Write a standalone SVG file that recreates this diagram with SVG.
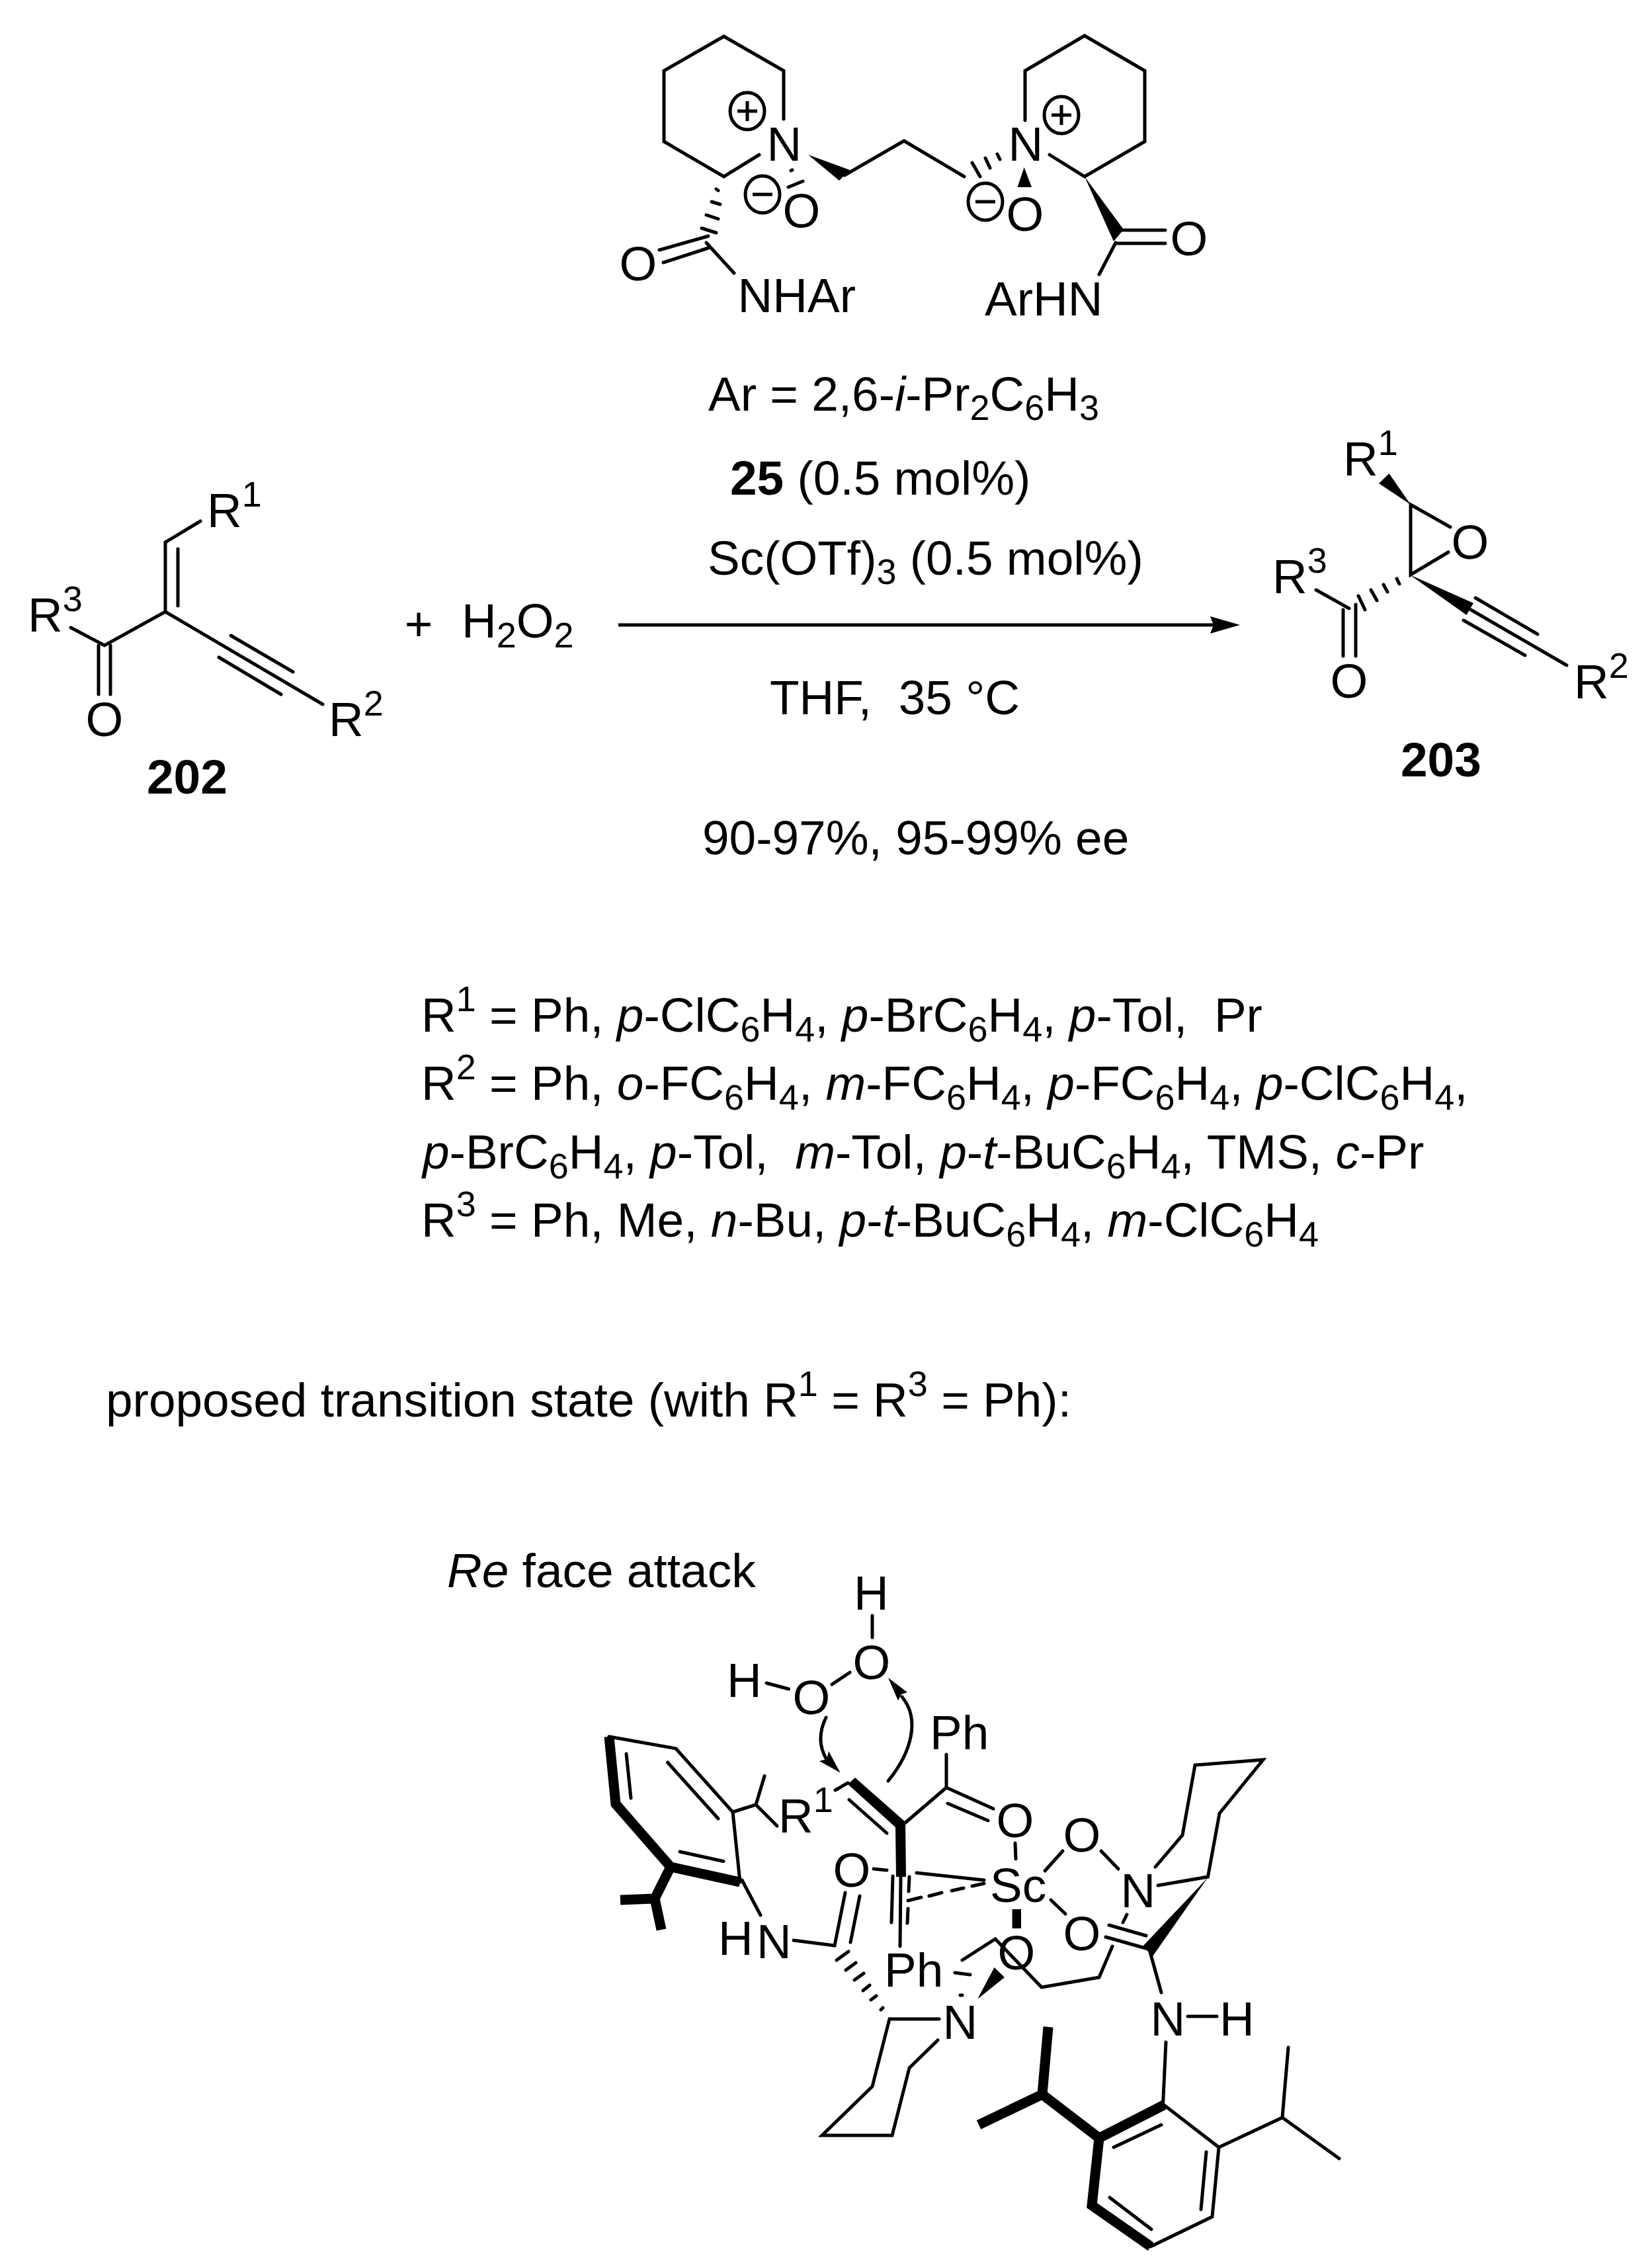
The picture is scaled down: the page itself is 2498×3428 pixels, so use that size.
<svg xmlns="http://www.w3.org/2000/svg" xmlns:xlink="http://www.w3.org/1999/xlink" width="2498" height="3428" viewBox="0 0 2498 3428">
<style>
text{font-family:"Liberation Sans",Arial,sans-serif;font-size:73px;fill:#000}
.b{font-weight:bold}
.i{font-style:italic}
.s{font-size:54px}
.l{fill:none;stroke:#000;stroke-width:5;stroke-linecap:round;stroke-linejoin:miter}
.t{fill:none;stroke:#000;stroke-width:15;stroke-linecap:butt;stroke-linejoin:miter}
.w{fill:#000;stroke:none}
</style>
<defs>
<g id="plus"><ellipse rx="26" ry="28" fill="none" stroke="#000" stroke-width="5"/><path d="M-15 0H15M0 -15V15" fill="none" stroke="#000" stroke-width="5"/></g>
<g id="minus"><ellipse rx="26" ry="28" fill="none" stroke="#000" stroke-width="5"/><path d="M-15 0H15" fill="none" stroke="#000" stroke-width="5"/></g>
<marker id="ah" markerUnits="userSpaceOnUse" markerWidth="50" markerHeight="30" refX="5" refY="13" orient="auto"><path d="M45 13L0 0L5 13L0 26Z" fill="#000"/></marker>
</defs>
<rect width="2498" height="3428" fill="#fff"/>

<g id="catalyst-25">
<path class="l" d="M1185 180V107L1094.500 55L1004 107V214L1094.500 267L1148 234"/>
<path class="l" d="M1550 182V107L1640 54L1731 107V214L1640 267L1587 234"/>
<text x="1159.500" y="243">N</text><text x="1524.500" y="243">N</text>
<use xlink:href="#plus" href="#plus" x="1130" y="168"/><use xlink:href="#plus" href="#plus" x="1605" y="174"/>
<use xlink:href="#minus" href="#minus" x="1153" y="294"/><use xlink:href="#minus" href="#minus" x="1490" y="305"/>
<text x="1183.600" y="344">O</text><text x="1521.600" y="349">O</text>
<path class="w" d="M1222 234L1285 257L1269 273Z"/>
<path class="l" d="M1277 265L1367 213L1458 267"/>
<path class="l" d="M1470 246L1482 267M1490 239L1497 254M1508 233L1512 241"/>
<path class="l" d="M1196 258L1198 257M1192 283L1214 274"/>
<path class="w" d="M1548.600 253L1538.500 283H1560Z"/>
<path class="l" d="M1083 286L1086 288M1076 305L1089 309M1068 325L1086 331M1061 345L1083 352"/>
<path class="l" d="M997 378L1071 357M1003 397L1071 375M1068 367L1110 413"/>
<text x="936.600" y="424">O</text>
<text x="1115.500" y="472">NHAr</text>
<path class="w" d="M1640 267L1684 365L1699 347Z"/>
<path class="l" d="M1693 348H1762M1687 368H1762M1687 367L1662 415"/>
<text x="1769.600" y="386">O</text>
<text x="1489" y="477">ArHN</text>
</g>

<g id="conditions">
<text x="1071" y="621">Ar = 2,6-<tspan class="i">i</tspan>-Pr<tspan class="s" dy="14">2</tspan><tspan dy="-14">C</tspan><tspan class="s" dy="14">6</tspan><tspan dy="-14">H</tspan><tspan class="s" dy="14">3</tspan></text>
<text x="1104" y="748"><tspan class="b">25</tspan> (0.5 mol%)</text>
<text x="1070" y="869">Sc(OTf)<tspan class="s" dy="14">3</tspan><tspan dy="-14"> (0.5 mol%)</tspan></text>
<text x="1164" y="1080">THF,&#160; 35 °C</text>
<text x="1062" y="1292">90-97%, 95-99% ee</text>
</g>

<g id="compound-202">
<path class="l" d="M303 788L250 820V925L158 976L107 949"/>
<path class="l" d="M269 830V916M149 976V1050M167 976V1050"/>
<path class="l" d="M250 925L488 1065M349 961L443 1016M331 994L425 1050"/>
<text x="313" y="797">R<tspan class="s" dy="-31">1</tspan></text>
<text x="42" y="955">R<tspan class="s" dy="-31">3</tspan></text>
<text x="129.600" y="1113">O</text>
<text x="497" y="1113">R<tspan class="s" dy="-31">2</tspan></text>
<text class="b" x="222" y="1200">202</text>
</g>

<g id="reagent-h2o2">
<text x="611.700" y="968">+</text>
<text x="698" y="964">H<tspan class="s" dy="15">2</tspan><tspan dy="-15">O</tspan><tspan class="s" dy="15">2</tspan></text>
</g>

<g id="connectors">
<path d="M935 945H1835" fill="none" stroke="#000" stroke-width="5" marker-end="url(#ah)"/>
<path class="l" d="M1249 2597C1238 2620 1238 2640 1250 2661"/>
<path class="w" d="M1270.600 2680.600L1239 2663L1250 2660L1253 2648Z"/>
<path class="l" d="M1343 2693C1378 2650 1392 2600 1364 2566"/>
<path class="w" d="M1343 2537L1372 2559L1363 2562L1358 2571.500Z"/>
</g>

<g id="compound-203">
<path class="w" d="M2133 763L2100.500 716L2085 731Z"/>
<path class="l" d="M2193 797L2133 763V869L2190 835"/>
<path class="w" d="M2131.500 869L2228 912L2217.500 930Z"/>
<path class="l" d="M2224 922L2369 1006M2231 904L2325 959M2213 938L2306 991"/>
<path class="l" d="M2112 875L2116 883M2092 884L2098 895M2073 892L2082 908M2054 901L2064 922"/>
<path class="l" d="M1990 892L2040 920M2031 922V992M2050 914V992"/>
<text x="2031" y="719">R<tspan class="s" dy="-31">1</tspan></text>
<text x="2194.600" y="845">O</text>
<text x="2380" y="1056">R<tspan class="s" dy="-31">2</tspan></text>
<text x="2011.600" y="1055">O</text>
<text x="1924" y="897">R<tspan class="s" dy="-31">3</tspan></text>
<text class="b" x="2118" y="1174">203</text>
</g>

<g id="substituents">
<text x="637" y="1560">R<tspan class="s" dy="-31">1</tspan><tspan dy="31"> = Ph, </tspan><tspan class="i">p</tspan>-ClC<tspan class="s" dy="15">6</tspan><tspan dy="-15">H</tspan><tspan class="s" dy="15">4</tspan><tspan dy="-15">, </tspan><tspan class="i">p</tspan>-BrC<tspan class="s" dy="15">6</tspan><tspan dy="-15">H</tspan><tspan class="s" dy="15">4</tspan><tspan dy="-15">, </tspan><tspan class="i">p</tspan>-Tol,&#160; Pr</text>
<text x="637" y="1663">R<tspan class="s" dy="-31">2</tspan><tspan dy="31"> = Ph, </tspan><tspan class="i">o</tspan>-FC<tspan class="s" dy="15">6</tspan><tspan dy="-15">H</tspan><tspan class="s" dy="15">4</tspan><tspan dy="-15">, </tspan><tspan class="i">m</tspan>-FC<tspan class="s" dy="15">6</tspan><tspan dy="-15">H</tspan><tspan class="s" dy="15">4</tspan><tspan dy="-15">, </tspan><tspan class="i">p</tspan>-FC<tspan class="s" dy="15">6</tspan><tspan dy="-15">H</tspan><tspan class="s" dy="15">4</tspan><tspan dy="-15">, </tspan><tspan class="i">p</tspan>-ClC<tspan class="s" dy="15">6</tspan><tspan dy="-15">H</tspan><tspan class="s" dy="15">4</tspan><tspan dy="-15">,</tspan></text>
<text x="639" y="1767"><tspan class="i">p</tspan>-BrC<tspan class="s" dy="15">6</tspan><tspan dy="-15">H</tspan><tspan class="s" dy="15">4</tspan><tspan dy="-15">, </tspan><tspan class="i">p</tspan>-Tol,&#160; <tspan class="i">m</tspan>-Tol, <tspan class="i">p</tspan>-<tspan class="i">t</tspan>-BuC<tspan class="s" dy="15">6</tspan><tspan dy="-15">H</tspan><tspan class="s" dy="15">4</tspan><tspan dy="-15">, TMS, </tspan><tspan class="i">c</tspan>-Pr</text>
<text x="637" y="1870">R<tspan class="s" dy="-31">3</tspan><tspan dy="31"> = Ph, Me, </tspan><tspan class="i">n</tspan>-Bu, <tspan class="i">p</tspan>-<tspan class="i">t</tspan>-BuC<tspan class="s" dy="15">6</tspan><tspan dy="-15">H</tspan><tspan class="s" dy="15">4</tspan><tspan dy="-15">, </tspan><tspan class="i">m</tspan>-ClC<tspan class="s" dy="15">6</tspan><tspan dy="-15">H</tspan><tspan class="s" dy="15">4</tspan></text>
<text x="160" y="2142">proposed transition state (with R<tspan class="s" dy="-31">1</tspan><tspan dy="31"> = R</tspan><tspan class="s" dy="-31">3</tspan><tspan dy="31"> = Ph):</tspan></text>
<text x="676" y="2400"><tspan class="i">Re</tspan> face attack</text>
</g>

<g id="transition-state">
<text x="1291" y="2434">H</text><path class="l" d="M1319 2443V2476"/>
<text x="1289.600" y="2539">O</text>
<text x="1099" y="2566">H</text><path class="l" d="M1159 2545L1192.500 2554M1258 2547L1285 2529"/>
<text x="1198.600" y="2592">O</text>
<text x="1406" y="2645">Ph</text>
<path class="l" d="M1431 2653V2703L1368 2757M1431 2703L1502 2735M1433 2727L1494 2753M1535 2787L1536 2811"/>
<text x="1506.600" y="2778">O</text>
<text x="1497" y="2876">Sc</text>
<path class="w" d="M1293 2688L1282 2698L1354 2763L1355 2838H1370L1369 2755Z"/>
<path class="l" d="M1284 2721.500L1341 2772M1263 2707L1282 2696"/>
<text x="1177" y="2771">R<tspan class="s" dy="-31">1</tspan></text>
<text x="1259.600" y="2853">O</text>
<path class="l" d="M1321 2826L1341 2828"/>
<path class="l" d="M1362 2838L1361 2943M1350 2837L1348 2907M1375 2838L1374 2860M1373 2886L1372 2908"/>
<path class="l" d="M1386 2832L1488 2843"/>
<path class="l" d="M1373 2874L1393 2869M1405 2867L1424 2862M1439 2859L1457 2855M1470 2852L1488 2848"/>
<path class="w" d="M1530.600 2887H1544V2916H1530.600Z"/>
<text x="1508.600" y="2978">O</text>
<text x="1607.600" y="2800">O</text>
<path class="l" d="M1580 2829L1607 2799M1665 2799L1691 2826"/>
<text x="1694.500" y="2884">N</text>
<path class="l" d="M1747 2823L1788 2775L1807 2669L1910 2661L1844 2742L1826.500 2838L1751 2851"/>
<path class="w" d="M1826.500 2839L1728 2943L1743 2958Z"/>
<path class="l" d="M1589 2873L1611 2894"/>
<text x="1607.600" y="2949">O</text>
<path class="l" d="M1704 2895L1698 2907M1677 2911L1733 2927M1672 2929L1736 2947"/>
<path class="l" d="M1682 2943L1662 2990L1575 3005L1505 2932L1455 2964M1444 2983L1467 2986"/>
<path class="w" d="M1478 3023L1503.500 2975L1519 2990Z"/>
<path class="l" d="M1452 3017H1455"/>
<path class="l" d="M1283 2951L1265 2964M1294 2968L1279 2979M1306 2984L1292 2994M1315 3002L1305 3010M1325 3018L1317 3024M1335 3036L1332 3039"/>
<text x="1337" y="3004">Ph</text>
<text x="1425.500" y="3083">N</text>
<path class="l" d="M1420 3053H1345L1319 3155L1243 3229H1349L1375 3127L1418 3085"/>
<text x="1739.500" y="3078">N</text>
<path class="l" d="M1796 3049H1840"/>
<text x="1844" y="3078">H</text>
<path class="l" d="M1738 2948L1756 3013M1763 3088L1758.500 3183"/>
<path class="l" d="M1760 3183L1843 3247L1833 3352L1740 3397"/>
<path class="t" d="M1740 3397L1651 3335L1662 3233L1760 3183"/>
<path class="l" d="M1756 3213L1684 3247M1824 3254L1816 3341M1741 3371L1678 3323"/>
<path class="l" d="M1843 3247L1939 3202L1948 3096M1939 3202L2025 3264"/>
<path class="t" d="M1662 3233L1576 3167L1585 3065M1576 3167L1480 3213"/>
<path class="l" d="M921 2626L1022 2644L1108 2740L1119 2846"/>
<path class="t" d="M921 2626L931 2728L1014 2823L1119 2846"/>
<path class="l" d="M947 2652L954 2719M1009.500 2665L1086 2750M1028 2800L1094 2814.500"/>
<path class="l" d="M1108 2740L1143 2729L1156 2685.500M1143 2729L1175 2761"/>
<path class="t" d="M1014 2823L990 2871L938 2873M990 2871L1000 2918"/>
<path class="l" d="M1122 2843L1150 2896"/>
<text x="1086" y="2956">H</text><text x="1144" y="2961">N</text>
<path class="l" d="M1200 2934L1262 2942L1278 2862M1286 2937L1300 2867"/>
</g>
</svg>
